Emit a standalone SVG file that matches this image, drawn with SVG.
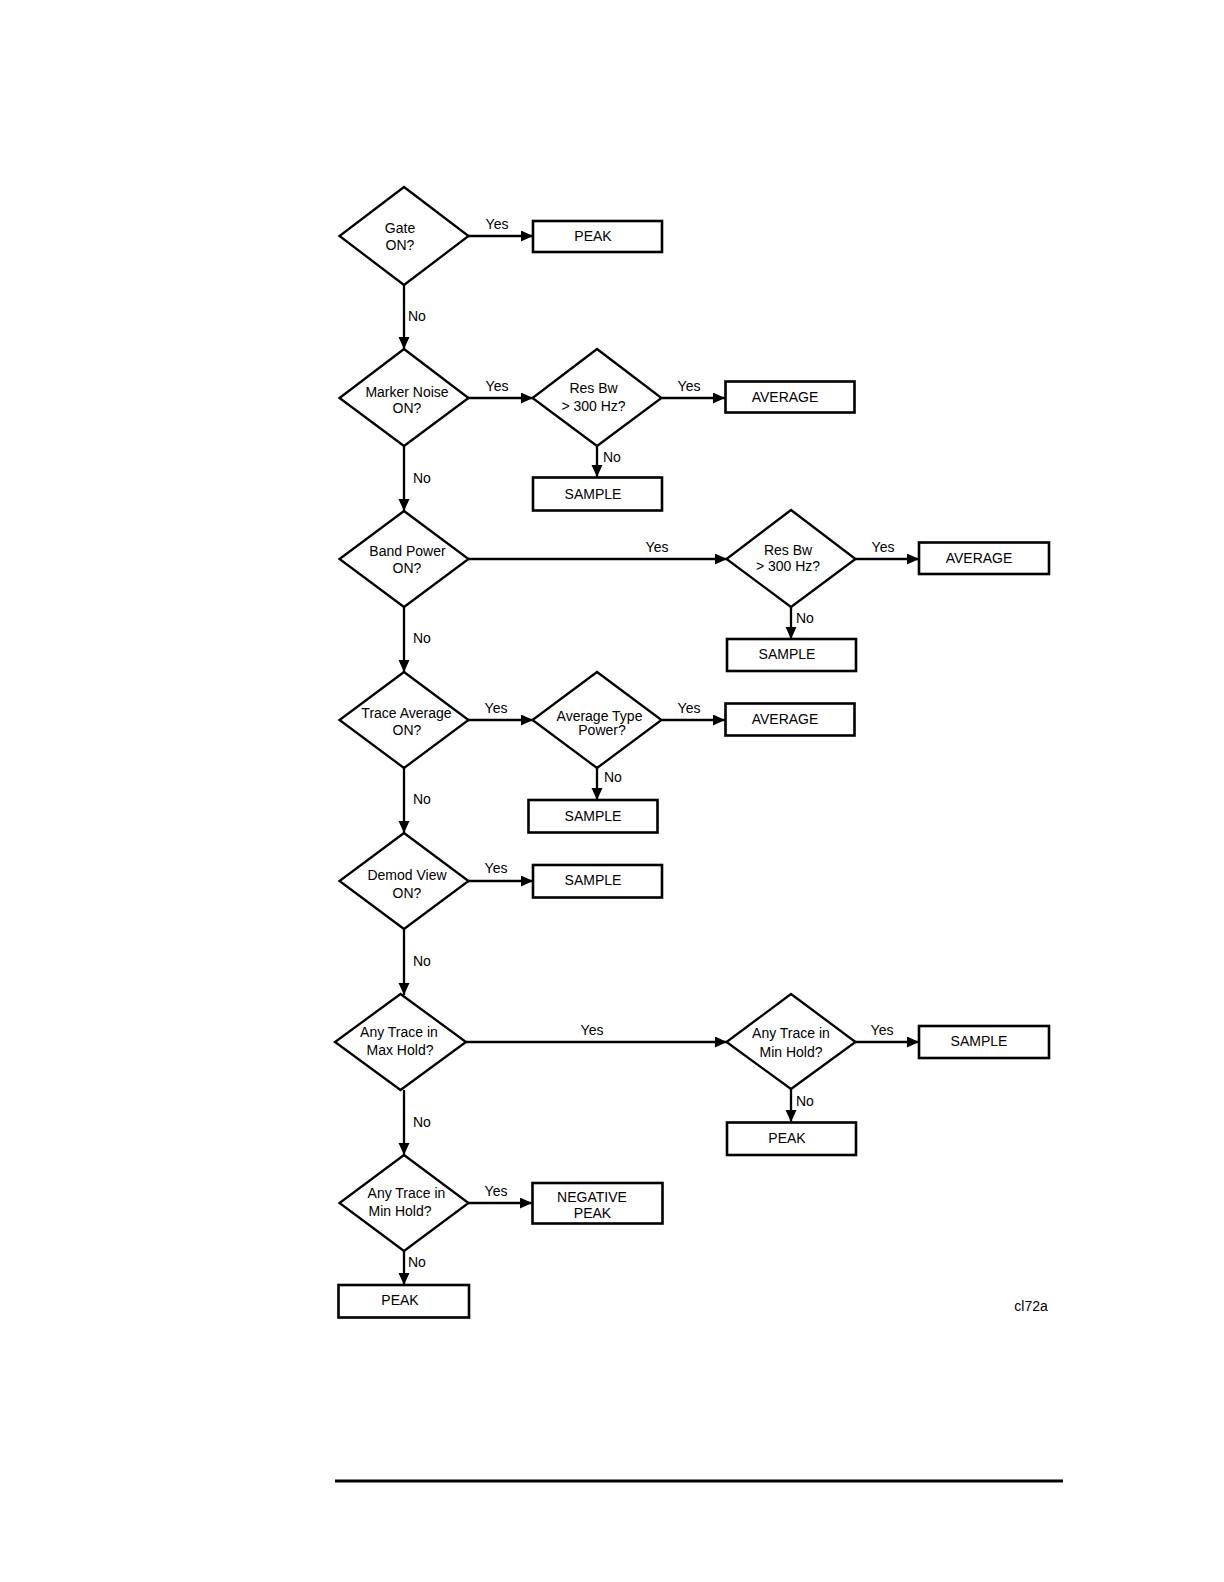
<svg xmlns="http://www.w3.org/2000/svg" width="1224" height="1582" viewBox="0 0 1224 1582">
<style>
.shape{fill:#fff;stroke:#000;stroke-width:2.3}
.box{fill:#fff;stroke:#000;stroke-width:2.6}
.t{font-family:"Liberation Sans",Arial,sans-serif;font-size:14px;fill:#000;text-anchor:middle}
.l{font-family:"Liberation Sans",Arial,sans-serif;font-size:14px;fill:#000}
.c{stroke:#000;stroke-width:2.3;fill:none;marker-end:url(#ah)}
</style>
<defs>
<marker id="ah" markerUnits="userSpaceOnUse" markerWidth="13" markerHeight="12" refX="12" refY="5.5" orient="auto">
<path d="M0,0 L12,5.5 L0,11 z" fill="#000"/>
</marker>
</defs>
<rect width="1224" height="1582" fill="#fff"/>

<g id="connectors">
<line class="c" x1="468" y1="236" x2="533" y2="236"/>
<line class="c" x1="404" y1="285" x2="404" y2="349"/>
<line class="c" x1="468" y1="398" x2="533" y2="398"/>
<line class="c" x1="662" y1="398" x2="725" y2="398"/>
<line class="c" x1="597" y1="446" x2="597" y2="477"/>
<line class="c" x1="404" y1="446" x2="404" y2="511"/>
<line class="c" x1="468" y1="559" x2="727" y2="559"/>
<line class="c" x1="855" y1="559" x2="919" y2="559"/>
<line class="c" x1="791" y1="607" x2="791" y2="639"/>
<line class="c" x1="404" y1="607" x2="404" y2="672"/>
<line class="c" x1="468" y1="720" x2="533" y2="720"/>
<line class="c" x1="662" y1="720" x2="725" y2="720"/>
<line class="c" x1="597" y1="768" x2="597" y2="800"/>
<line class="c" x1="404" y1="768" x2="404" y2="833"/>
<line class="c" x1="468" y1="881" x2="533" y2="881"/>
<line class="c" x1="404" y1="929" x2="404" y2="995"/>
<line class="c" x1="466" y1="1042" x2="727" y2="1042"/>
<line class="c" x1="855" y1="1042" x2="919" y2="1042"/>
<line class="c" x1="791" y1="1089" x2="791" y2="1122"/>
<line class="c" x1="404" y1="1090" x2="404" y2="1155"/>
<line class="c" x1="468" y1="1203" x2="532" y2="1203"/>
<line class="c" x1="404" y1="1251" x2="404" y2="1285"/>
<text class="t" x="497" y="229">Yes</text>
<text class="l" x="408" y="321">No</text>
<text class="t" x="497" y="391">Yes</text>
<text class="t" x="689" y="391">Yes</text>
<text class="l" x="603" y="462">No</text>
<text class="l" x="413" y="483">No</text>
<text class="t" x="657" y="552">Yes</text>
<text class="t" x="883" y="552">Yes</text>
<text class="l" x="796" y="623">No</text>
<text class="l" x="413" y="643">No</text>
<text class="t" x="496" y="713">Yes</text>
<text class="t" x="689" y="713">Yes</text>
<text class="l" x="604" y="782">No</text>
<text class="l" x="413" y="804">No</text>
<text class="t" x="496" y="873">Yes</text>
<text class="l" x="413" y="966">No</text>
<text class="t" x="592" y="1035">Yes</text>
<text class="t" x="882" y="1035">Yes</text>
<text class="l" x="796" y="1106">No</text>
<text class="l" x="413" y="1127">No</text>
<text class="t" x="496" y="1196">Yes</text>
<text class="l" x="408" y="1267">No</text>
</g>

<g id="gate">
<polygon class="shape" points="404,187 468.5,236 404,285 339.5,236"/>
<text class="t" x="400" y="232.5">Gate</text>
<text class="t" x="400" y="250">ON?</text>
</g>
<g id="peak1">
<rect class="box" x="533" y="221" width="129" height="31"/>
<text class="t" x="593" y="241">PEAK</text>
</g>

<g id="markerNoise">
<polygon class="shape" points="404,349 468.5,398 404,446 339.5,398"/>
<text class="t" x="407" y="396.5">Marker Noise</text>
<text class="t" x="407" y="413">ON?</text>
</g>
<g id="resBw1">
<polygon class="shape" points="597,349 661.5,398 597,446 532.5,398"/>
<text class="t" x="593.5" y="392.5">Res Bw</text>
<text class="t" x="593.5" y="410.5">&gt; 300 Hz?</text>
</g>
<g id="average1">
<rect class="box" x="725.5" y="381.5" width="129" height="31"/>
<text class="t" x="785" y="401.5">AVERAGE</text>
</g>
<g id="sample1">
<rect class="box" x="533" y="477.5" width="129" height="33"/>
<text class="t" x="593" y="498.5">SAMPLE</text>
</g>

<g id="bandPower">
<polygon class="shape" points="404,511 468.5,559 404,607 339.5,559"/>
<text class="t" x="407.5" y="556">Band Power</text>
<text class="t" x="407" y="573">ON?</text>
</g>
<g id="resBw2">
<polygon class="shape" points="791,510 855.5,559 791,607 726.5,559"/>
<text class="t" x="788" y="555">Res Bw</text>
<text class="t" x="788" y="571">&gt; 300 Hz?</text>
</g>
<g id="average2">
<rect class="box" x="919" y="542.5" width="130" height="31.5"/>
<text class="t" x="979" y="562.5">AVERAGE</text>
</g>
<g id="sample2">
<rect class="box" x="727" y="639" width="129" height="32"/>
<text class="t" x="787" y="659">SAMPLE</text>
</g>

<g id="traceAverage">
<polygon class="shape" points="404,672 468.5,720 404,768 339.5,720"/>
<text class="t" x="406.5" y="718">Trace Average</text>
<text class="t" x="407" y="735">ON?</text>
</g>
<g id="averageType">
<polygon class="shape" points="597,672 661.5,720 597,768 532.5,720"/>
<text class="t" x="599.5" y="720.5">Average Type</text>
<text class="t" x="602" y="735">Power?</text>
</g>
<g id="average3">
<rect class="box" x="725.5" y="703.5" width="129" height="32"/>
<text class="t" x="785" y="723.5">AVERAGE</text>
</g>
<g id="sample3">
<rect class="box" x="528.5" y="800" width="129" height="32.5"/>
<text class="t" x="593" y="820.5">SAMPLE</text>
</g>

<g id="demodView">
<polygon class="shape" points="404,833 468.5,881 404,929 339.5,881"/>
<text class="t" x="407" y="880">Demod View</text>
<text class="t" x="407" y="897.5">ON?</text>
</g>
<g id="sample4">
<rect class="box" x="533" y="865" width="129" height="32.5"/>
<text class="t" x="593" y="885">SAMPLE</text>
</g>

<g id="maxHold">
<polygon class="shape" points="400.5,994 466,1042 400.5,1090 335,1042"/>
<text class="t" x="399" y="1036.5">Any Trace in</text>
<text class="t" x="400" y="1055">Max Hold?</text>
</g>
<g id="minHoldRight">
<polygon class="shape" points="791,994 855.5,1042 791,1089 726.5,1042"/>
<text class="t" x="791" y="1038">Any Trace in</text>
<text class="t" x="791" y="1056.5">Min Hold?</text>
</g>
<g id="sample5">
<rect class="box" x="919" y="1026" width="130" height="32"/>
<text class="t" x="979" y="1046">SAMPLE</text>
</g>
<g id="peak2">
<rect class="box" x="727" y="1122.5" width="129" height="32.5"/>
<text class="t" x="787" y="1143">PEAK</text>
</g>

<g id="minHoldLeft">
<polygon class="shape" points="404,1155 468.5,1203 404,1251 339.5,1203"/>
<text class="t" x="406.5" y="1198">Any Trace in</text>
<text class="t" x="400" y="1215.5">Min Hold?</text>
</g>
<g id="negativePeak">
<rect class="box" x="532.5" y="1183" width="130" height="40.5"/>
<text class="t" x="592" y="1201.5">NEGATIVE</text>
<text class="t" x="592.5" y="1218">PEAK</text>
</g>
<g id="peak3">
<rect class="box" x="338.5" y="1285" width="130.5" height="32.5"/>
<text class="t" x="400" y="1305">PEAK</text>
</g>

<text class="t" x="1031" y="1311">cl72a</text>
<line x1="335" y1="1481" x2="1063" y2="1481" stroke="#000" stroke-width="3"/>
</svg>
